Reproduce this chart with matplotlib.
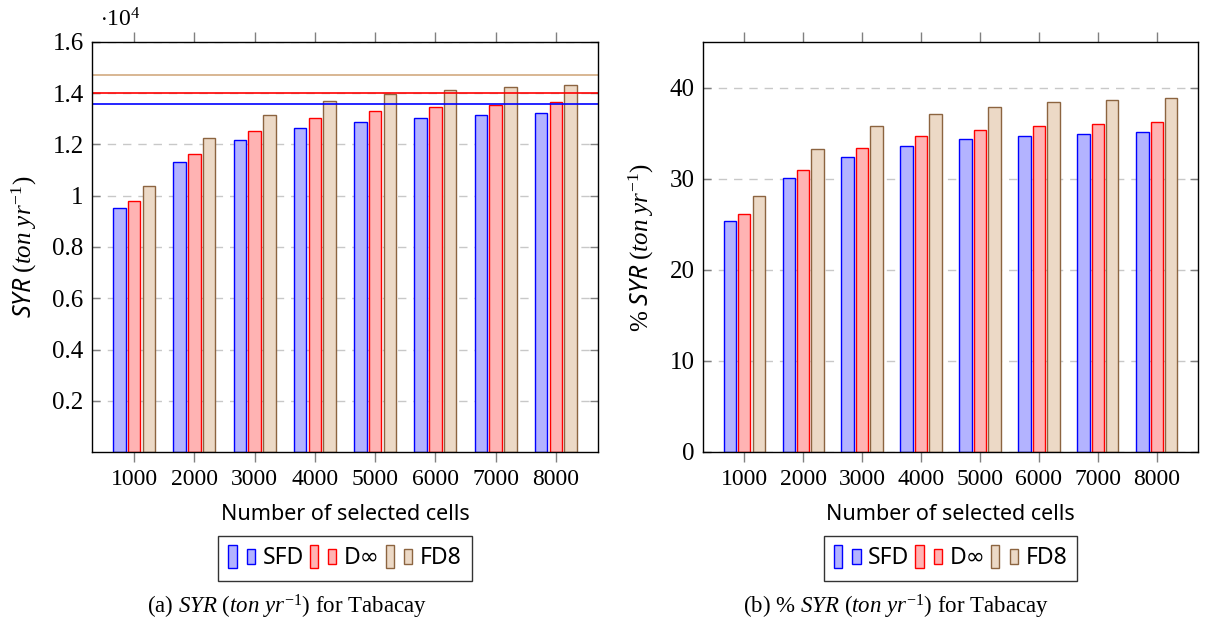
import numpy as np
import matplotlib
matplotlib.use("Agg")
import matplotlib.pyplot as plt
from matplotlib.patches import Rectangle
from matplotlib.legend_handler import HandlerBase

plt.rcParams['mathtext.fontset'] = 'custom'
plt.rcParams['mathtext.rm'] = 'Liberation Serif'
plt.rcParams['mathtext.it'] = 'Liberation Serif:italic'
plt.rcParams['mathtext.sf'] = 'Noto Sans:italic'

# data
cells = [1000, 2000, 3000, 4000, 5000, 6000, 7000, 8000]
methods = ['SFD', 'D∞', 'FD8']

syr_sfd = [9540, 11300, 12170, 12630, 12890, 13050, 13140, 13210]
syr_dinf = [9800, 11630, 12530, 13020, 13300, 13450, 13540, 13640]
syr_fd8 = [10370, 12240, 13140, 13690, 13960, 14120, 14230, 14310]
syr_ref = [13570, 14010, 14700]  # horizontal reference lines

pct_sfd = [25.4, 30.1, 32.4, 33.6, 34.3, 34.7, 34.95, 35.15]
pct_dinf = [26.1, 30.95, 33.35, 34.65, 35.35, 35.75, 36.0, 36.25]
pct_fd8 = [28.15, 33.3, 35.75, 37.15, 37.9, 38.4, 38.65, 38.9]

edge_cols = ['#0000ff', '#ff0000', '#8c6440']
fill_cols = ['#b3b3ff', '#ffb3b3', '#ecd9c6']
line_cols = ['#0000ff', '#ff0000', '#d2aa80']

serif = 'Liberation Serif'
sans = ['Noto Sans', 'DejaVu Sans']


class TwoBars(HandlerBase):
    # pgfplots-style ybar legend image: tall bar + short bar
    def create_artists(self, legend, orig_handle, xdescent, ydescent,
                       width, height, fontsize, trans):
        fc = orig_handle.get_facecolor()
        ec = orig_handle.get_edgecolor()
        w = width * 0.28
        r1 = Rectangle((-xdescent, -ydescent - height * 0.3), w, height * 1.6,
                       facecolor=fc, edgecolor=ec, lw=1.0, transform=trans)
        r2 = Rectangle((-xdescent + width * 0.62, -ydescent), w, height,
                       facecolor=fc, edgecolor=ec, lw=1.0, transform=trans)
        return [r1, r2]


fig = plt.figure(figsize=(12.05, 6.27), dpi=100)
ax1 = fig.add_axes([92 / 1205, 1 - 452 / 627, 506 / 1205, 410 / 627])
ax2 = fig.add_axes([703 / 1205, 1 - 452 / 627, 495 / 1205, 410 / 627])

x = np.array(cells)
bw = 210
off = 245


def draw(ax, series, scale=1.0):
    handles = []
    for i, vals in enumerate(series):
        b = ax.bar(x + (i - 1) * off, np.array(vals) / scale, width=bw,
                   color=fill_cols[i], edgecolor=edge_cols[i], linewidth=1.0,
                   zorder=3, label=methods[i])
        handles.append(b.patches[0])
    ax.set_xlim(300, 8700)
    ax.set_xticks(cells)
    ax.set_xticklabels([str(c) for c in cells], fontfamily=serif, fontsize=17)
    ax.tick_params(axis='x', direction='out', top=True, bottom=True,
                   length=7, color='#808080', width=1.0, pad=5)
    ax.tick_params(axis='y', direction='in', left=True, right=True,
                   length=6, color='#808080', width=1.0, labelsize=18, pad=6)
    for lab in ax.get_yticklabels():
        lab.set_fontfamily(serif)
    ax.grid(axis='y', color='#c8c8c8', linestyle=(0, (6, 5)), lw=1.0, zorder=0)
    for s in ax.spines.values():
        s.set_linewidth(1.0)
        s.set_zorder(5)
    ax.set_xlabel('Number of selected cells', fontfamily=sans, fontsize=15.5,
                  labelpad=10)
    leg = ax.legend(handles, methods, handler_map={h: TwoBars() for h in handles},
                    loc='upper center', bbox_to_anchor=(0.5, -0.205), ncol=3,
                    frameon=True, fancybox=False, edgecolor='black',
                    prop={'family': sans, 'size': 16.5}, handlelength=1.3,
                    handletextpad=0.2, columnspacing=0.25, borderpad=0.45,
                    handleheight=0.6, borderaxespad=0)
    leg.get_frame().set_linewidth(1.0)


draw(ax1, [syr_sfd, syr_dinf, syr_fd8], scale=1e4)
for v, c in zip(syr_ref, line_cols):
    ax1.axhline(v / 1e4, color=c, lw=1.2, zorder=4)
ax1.set_ylim(0, 1.6)
ax1.set_yticks([0.2, 0.4, 0.6, 0.8, 1.0, 1.2, 1.4, 1.6])
ax1.set_yticklabels(['0.2', '0.4', '0.6', '0.8', '1', '1.2', '1.4', '1.6'],
                    fontfamily=serif)
ax1.set_ylabel(r'$\mathsf{SYR}\ (\mathit{ton\ yr}^{-1})$', fontsize=18, labelpad=10)
ax1.text(0.015, 1.025, r'$\cdot10^{4}$', transform=ax1.transAxes, fontsize=17,
         ha='left', va='bottom', fontfamily=serif)

draw(ax2, [pct_sfd, pct_dinf, pct_fd8])
ax2.set_ylim(0, 45)
ax2.set_yticks([0, 10, 20, 30, 40])
ax2.set_yticklabels(['0', '10', '20', '30', '40'], fontfamily=serif)
ax2.set_ylabel(r'$\%\ \mathsf{SYR}\ (\mathit{ton\ yr}^{-1})$', fontsize=18, labelpad=10)

fig.text(287 / 1205, 1 - 607 / 627,
         r'(a) $\mathit{SYR}$ $(\mathit{ton\ yr}^{-1})$ for Tabacay',
         ha='center', va='center', fontsize=16.5, fontfamily=serif)
fig.text(896 / 1205, 1 - 607 / 627,
         r'(b) % $\mathit{SYR}$ $(\mathit{ton\ yr}^{-1})$ for Tabacay',
         ha='center', va='center', fontsize=16.5, fontfamily=serif)

fig.savefig('out.png', dpi=100)
